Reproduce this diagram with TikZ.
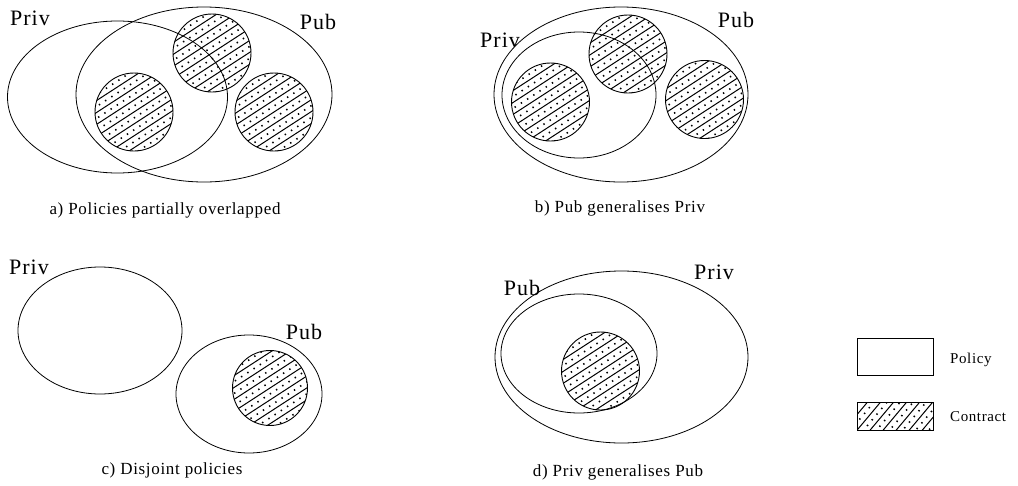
\documentclass[tikz,border=0pt]{standalone}
\usepackage{fontspec}
\setmainfont{Liberation Serif}
\usetikzlibrary{shapes.geometric}
\newfontfamily\lblfont[LetterSpace=5]{Liberation Serif}
\newfontfamily\capfont[LetterSpace=4]{Liberation Serif}
\tikzset{
  policy/.style={ellipse, draw, line width=0.8pt, inner sep=0pt},
  hatchfill/.style={path picture={
    \begin{scope}[shift={(path picture bounding box.center)}]
      \foreach \k in {-6,...,6}{
        \pgfmathsetmacro{\da}{\k*10}
        \pgfmathsetmacro{\db}{\k*10+5}
        \draw[line width=1pt]
          ({\da*sin(#1)-70*cos(#1)},{\da*cos(#1)+70*sin(#1)}) --
          ({\da*sin(#1)+70*cos(#1)},{\da*cos(#1)-70*sin(#1)});
        \draw[line width=1.6pt, dash pattern=on 1.4pt off 6pt]
          ({\db*sin(#1)-70*cos(#1)},{\db*cos(#1)+70*sin(#1)}) --
          ({\db*sin(#1)+70*cos(#1)},{\db*cos(#1)-70*sin(#1)});
      }
    \end{scope}}},
  contract/.style={circle, draw, line width=0.9pt, minimum size=78pt, inner sep=0pt, hatchfill=33},
  lbl/.style={font=\lblfont\fontsize{22}{22}\selectfont, inner sep=0pt},
  captext/.style={font=\capfont\fontsize{17}{17}\selectfont, inner sep=0pt, anchor=base},
  legtext/.style={font=\capfont\fontsize{15}{15}\selectfont, inner sep=0pt, anchor=west},
  legbox/.style={draw, line width=0.8pt, rectangle, inner sep=0pt},
}
\begin{document}
\begin{tikzpicture}[x=1pt, y=-1pt]
\useasboundingbox (0,0) rectangle (1018,485);
% panel a
\node[policy, minimum width=220pt, minimum height=152pt] (aPriv) at (117.5,97) {};
\node[policy, minimum width=256pt, minimum height=175pt] (aPub) at (204,94.5) {};
\node[contract] (aC1) at (212,53) {};
\node[contract] (aC2) at (134,112) {};
\node[contract] (aC3) at (274,112) {};
\node[lbl] (aPrivL) at (30,18) {Priv};
\node[lbl] (aPubL) at (318,22) {Pub};
\node[captext] (aCap) at (165,214) {a) Policies partially overlapped};
% panel b
\node[policy, minimum width=254pt, minimum height=175pt] (bPub) at (621,94.5) {};
\node[policy, minimum width=154pt, minimum height=126pt] (bPriv) at (579,95) {};
\node[contract] (bC1) at (550.5,102) {};
\node[contract] (bC2) at (628,54) {};
\node[contract] (bC3) at (704.5,99.5) {};
\node[lbl] (bPrivL) at (500,40) {Priv};
\node[lbl] (bPubL) at (736,20) {Pub};
\node[captext] (bCap) at (620,212) {b) Pub generalises Priv};
% panel c
\node[policy, minimum width=164pt, minimum height=127pt] (cPriv) at (100,330.5) {};
\node[policy, minimum width=146pt, minimum height=118pt] (cPub) at (249,394) {};
\node[contract, minimum size=75pt] (cC1) at (270,388) {};
\node[lbl] (cPrivL) at (29,267) {Priv};
\node[lbl] (cPubL) at (304,332) {Pub};
\node[captext] (cCap) at (172,474) {c) Disjoint policies};
% panel d
\node[policy, minimum width=253pt, minimum height=172pt] (dPriv) at (621.5,357) {};
\node[policy, minimum width=156pt, minimum height=119pt] (dPub) at (579,353.5) {};
\node[contract] (dC1) at (600.5,371) {};
\node[lbl] (dPubL) at (522,288) {Pub};
\node[lbl] (dPrivL) at (714,272) {Priv};
\node[captext] (dCap) at (618,476) {d) Priv generalises Pub};
% legend
\node[legbox, minimum width=76pt, minimum height=37pt] (legP) at (895,356.5) {};
\node[legbox, minimum width=76pt, minimum height=28pt, hatchfill=50] (legC) at (895,416) {};
\node[legtext] (legPT) at (950,360) {Policy};
\node[legtext] (legCT) at (950,417) {Contract};
\end{tikzpicture}
\end{document}
